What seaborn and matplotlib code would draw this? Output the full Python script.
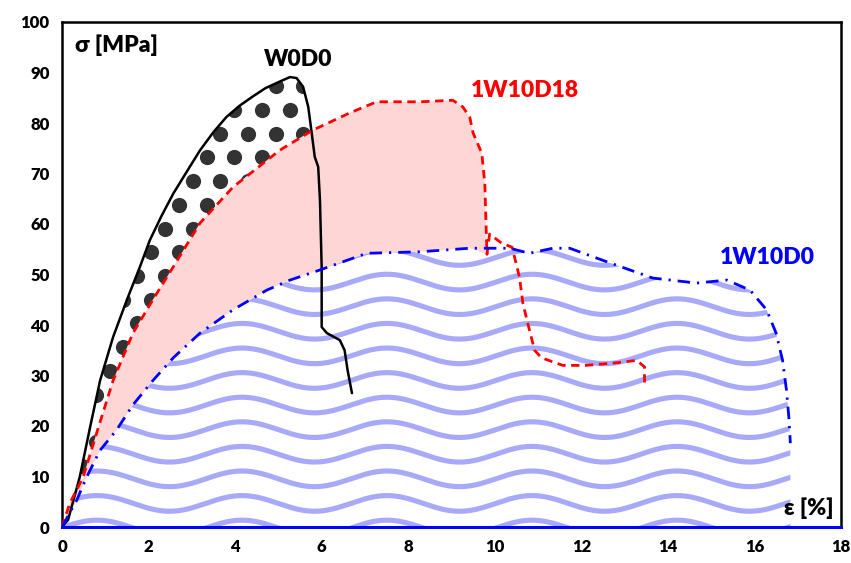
# Stress-strain curves of the three samples, with patterned fills between them
import numpy as np
import matplotlib
matplotlib.use("Agg")
import matplotlib.pyplot as plt
from matplotlib.patches import Polygon
import seaborn as sns

# W0D0 (black, solid)
w0d0_x = [0, 0.14, 0.41, 0.65, 0.88, 1.18, 1.5, 1.8, 2.03, 2.3, 2.57, 2.9, 3.19, 3.5, 3.8,
          4.1, 4.4, 4.7, 5.03, 5.27, 5.42, 5.57, 5.69, 5.77, 5.84, 5.92, 5.96, 6.0, 6.0,
          6.12, 6.42, 6.53, 6.6, 6.7]
w0d0_y = [0, 1.4, 9.9, 19.8, 29, 37.6, 45, 51.5, 56.8, 61.6, 66, 70.6, 74.6, 78.2, 81.2,
          83.4, 85.2, 86.9, 88.2, 89.1, 88.9, 87.2, 83.2, 78, 73.3, 71.3, 64.8, 51.5, 39.6,
          38.4, 37, 35, 31, 26.5]

# 1W10D18 (red, dashed)
w10d18_x = [0, 0.18, 0.49, 0.8, 1.18, 1.64, 2.1, 2.57, 3.19, 3.95, 5.03, 5.8, 6.65, 7.27,
            8.27, 9.03, 9.26, 9.42, 9.5, 9.7, 9.77, 9.8, 9.82, 9.88, 10.16, 10.4, 10.57,
            10.65, 10.76, 10.92, 11.08, 11.57, 12.1, 12.8, 13.28, 13.46, 13.46]
w10d18_y = [0, 4.7, 9.9, 18.6, 29, 38.4, 45, 51.5, 60.2, 67.3, 74.6, 78.6, 82, 84.2,
            84.2, 84.5, 83.2, 81.2, 78, 74, 68, 59.4, 54, 58, 56.2, 55.4, 49.5,
            44.3, 40.4, 35, 33.5, 32, 32, 32.5, 33, 31.7, 28]

# 1W10D0 (blue, dash-dot)
w10d0_x = [0, 0.34, 0.57, 0.88, 1.26, 1.64, 2.1, 2.57, 3.19, 3.95, 4.73, 5.27, 5.96, 7.04,
           8.27, 9.42, 10.35, 10.8, 11.34, 11.73, 12.66, 13.65, 14.66, 15.36, 15.9, 16.28,
           16.5, 16.65, 16.74, 16.8, 16.83]
w10d0_y = [0, 5.3, 9.9, 15.2, 19.2, 24.2, 29, 33.5, 38.4, 43, 46.9, 48.9, 50.9, 54.2,
           54.5, 55.2, 55.2, 54.2, 55.2, 55.2, 52.3, 49.3, 48.3, 48.9, 46.9, 43,
           38.4, 33, 27.1, 21.2, 16.6]

x_ticks = list(range(0, 19, 2))
y_ticks = list(range(0, 101, 10))

sns.set_theme(style="white")
plt.rcParams['font.family'] = ['Lato', 'DejaVu Sans']
plt.rcParams['font.weight'] = 'bold'

fig, ax = plt.subplots(figsize=(8.51, 5.63), dpi=100)
fig.subplots_adjust(left=62 / 851, right=841 / 851, bottom=1 - 527 / 563, top=1 - 22 / 563)

bx, by = np.array(w0d0_x), np.array(w0d0_y)
rx, ry = np.array(w10d18_x), np.array(w10d18_y)
ux, uy = np.array(w10d0_x), np.array(w10d0_y)

# pink band between red and blue curves
m_r = rx <= 9.82
m_u = ux <= 9.82
pink_pts = np.column_stack([np.r_[rx[m_r], ux[m_u][::-1]], np.r_[ry[m_r], uy[m_u][::-1]]])
ax.add_patch(Polygon(pink_pts, closed=True, facecolor='#ffd6d6', edgecolor='none', zorder=1))

# dotted region between black and red curves
m_b = bx <= 5.8
m_r2 = rx <= 5.8
dot_pts = np.column_stack([np.r_[bx[m_b], rx[m_r2][::-1]], np.r_[by[m_b], ry[m_r2][::-1]]])
dot_poly = Polygon(dot_pts, closed=True, facecolor='none', edgecolor='none')
ax.add_patch(dot_poly)
gx, gy = [], []
for i, yy in enumerate(np.arange(-2, 100, 4.7)):
    off = 0.32 * (i % 2)
    for xx in np.arange(-0.5, 7, 0.64):
        gx.append(xx + off)
        gy.append(yy)
dots = ax.scatter(gx, gy, s=120, color='#333333', linewidths=0, zorder=2)
dots.set_clip_path(dot_poly)

# wavy pattern under the blue curve
blue_pts = np.column_stack([np.r_[ux, ux[-1], 0], np.r_[uy, 0, 0]])
blue_poly = Polygon(blue_pts, closed=True, facecolor='none', edgecolor='none')
ax.add_patch(blue_poly)
wx = np.linspace(0, 17.5, 600)
for k in range(12):
    wy = -0.2 + 4.87 * k + 1.55 * np.cos(2 * np.pi * (wx - 4.16) / 3.35)
    ln, = ax.plot(wx, wy, color='#a9a9fa', lw=3.7, solid_capstyle='butt', zorder=1.5)
    ln.set_clip_path(blue_poly)

# curves
sns.lineplot(x=w0d0_x, y=w0d0_y, sort=False, estimator=None, color='black', lw=1.8, ax=ax, zorder=4)
sns.lineplot(x=w10d18_x, y=w10d18_y, sort=False, estimator=None, color='#ff0000', lw=2, ax=ax, zorder=4)
ax.lines[-1].set_dashes((3, 2))
sns.lineplot(x=w10d0_x, y=w10d0_y, sort=False, estimator=None, color='#0000ff', lw=2, ax=ax, zorder=4)
ax.lines[-1].set_dashes((4.5, 2.5, 0.8, 2.5))

ax.set_xlim(0, 18)
ax.set_ylim(0, 100)
ax.set_xticks(x_ticks)
ax.set_yticks(y_ticks)
ax.tick_params(axis='both', direction='in', labelsize=12, pad=9)
ax.tick_params(axis='x', colors='#0000ff', length=5, width=1.5, labelcolor='black')
ax.tick_params(axis='y', colors='black', length=4, width=1.2, labelcolor='black')
for lbl in ax.get_xticklabels() + ax.get_yticklabels():
    lbl.set_fontweight('heavy')
ax.set_xlabel('')
ax.set_ylabel('')

for s in ['top', 'left', 'right']:
    ax.spines[s].set_color('black')
    ax.spines[s].set_linewidth(1.8)
ax.spines['bottom'].set_color('#0000ff')
ax.spines['bottom'].set_linewidth(2.2)

lab = dict(fontsize=16.5, fontweight='heavy', va='center')
ax.text(0.3, 95.4, 'σ [MPa]', ha='left', color='black', **lab)
ax.text(17.25, 3.8, 'ε [%]', ha='center', color='black', zorder=5, **lab)
ax.text(5.45, 92.5, 'W0D0', ha='center', color='black', **lab)
ax.text(10.7, 86.5, '1W10D18', ha='center', color='#ff0000', **lab)
ax.text(16.3, 53.3, '1W10D0', ha='center', color='#0000ff', **lab)

fig.savefig('out.png', dpi=100, facecolor='white')
